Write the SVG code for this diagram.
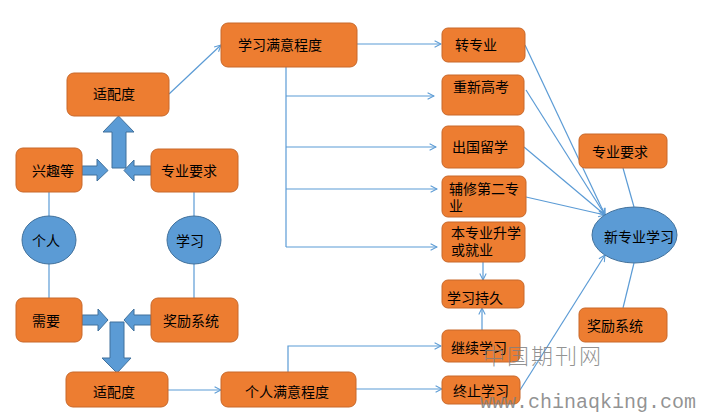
<svg xmlns="http://www.w3.org/2000/svg" width="708" height="413" viewBox="0 0 708 413">
<style>
.box{fill:#ED7D31;stroke:#C8682A;stroke-width:1}
.oval{fill:#5B9BD5;stroke:#41719C;stroke-width:1}
.blk{fill:#5B9BD5;stroke:#41719C;stroke-width:1}
.t{font-family:"Noto Sans CJK SC","Noto Sans CJK JP",sans-serif;font-size:14px;fill:#000}
.ln{fill:none;stroke:#5B9BD5;stroke-width:1.2}
.ar{marker-end:url(#ah)}
.wm{fill:#7f7f7f;fill-opacity:0.85}
</style>
<defs>
<marker id="ah" viewBox="0 0 10 10" refX="9" refY="5" markerWidth="8" markerHeight="8" markerUnits="userSpaceOnUse" orient="auto">
<path d="M1,1 L9,5 L1,9" fill="none" stroke="#5B9BD5" stroke-width="1.3"/>
</marker>
</defs>
<rect width="708" height="413" fill="#fff"/>
<g id="connectors">
<line class="ln" x1="49" y1="192" x2="49" y2="216"/>
<line class="ln" x1="49" y1="264" x2="49" y2="298"/>
<line class="ln" x1="194" y1="192" x2="194" y2="216"/>
<line class="ln" x1="194" y1="264" x2="194" y2="298"/>
<line class="ln ar" x1="169" y1="94" x2="221" y2="45"/>
<line class="ln ar" x1="357" y1="44" x2="441" y2="44"/>
<line class="ln" x1="286" y1="67" x2="286" y2="247"/>
<line class="ln ar" x1="286" y1="96" x2="434" y2="96"/>
<line class="ln ar" x1="286" y1="147" x2="436" y2="147"/>
<line class="ln ar" x1="286" y1="189" x2="437" y2="189"/>
<line class="ln ar" x1="286" y1="247" x2="437" y2="247"/>
<line class="ln ar" x1="483" y1="262" x2="483" y2="280"/>
<line class="ln ar" x1="482" y1="330" x2="482" y2="308"/>
<polyline class="ln ar" points="288,372 288,346 441,346"/>
<line class="ln ar" x1="168" y1="390" x2="221" y2="390"/>
<line class="ln ar" x1="356" y1="389" x2="442" y2="389"/>
<line class="ln ar" x1="520" y1="390" x2="605" y2="255"/>
<line class="ln ar" x1="525" y1="45" x2="605" y2="215"/>
<line class="ln ar" x1="526" y1="90" x2="605" y2="215"/>
<line class="ln ar" x1="524" y1="147" x2="605" y2="215"/>
<line class="ln ar" x1="526" y1="197" x2="605" y2="215"/>
<line class="ln" x1="623" y1="168" x2="634" y2="207"/>
<line class="ln" x1="623" y1="308" x2="634" y2="263"/>
<polygon class="blk" points="112,168 126,168 126,132 134,132 118.5,116 103,132 112,132"/>
<polygon class="blk" points="82,166 97,166 97,159 108,170.5 97,181 97,175 82,175"/>
<polygon class="blk" points="151,166 134,166 134,160 124,170.5 134,181 134,175 151,175"/>
<polygon class="blk" points="82,315 98,315 98,309 108,320 98,331 98,325 82,325"/>
<polygon class="blk" points="151,315 134,315 134,309 124,320 134,331 134,325 151,325"/>
<polygon class="blk" points="110,322 124,322 124,358 131,358 117,373 102,358 110,358"/>
</g>
<g id="n-xqmyd"><rect class="box" x="221" y="23" width="136" height="44" rx="7"/><text class="t" x="238" y="50">学习满意程度</text></g>
<g id="n-spd1"><rect class="box" x="67" y="73" width="102" height="43" rx="7"/><text class="t" x="93" y="99">适配度</text></g>
<g id="n-xqd"><rect class="box" x="16" y="148" width="66" height="44" rx="7"/><text class="t" x="32" y="176">兴趣等</text></g>
<g id="n-zyyq1"><rect class="box" x="151" y="149" width="87" height="43" rx="7"/><text class="t" x="161" y="176">专业要求</text></g>
<g id="n-gr"><ellipse class="oval" cx="49" cy="240" rx="27" ry="24"/><text class="t" x="32" y="246">个人</text></g>
<g id="n-xx"><ellipse class="oval" cx="194" cy="240" rx="27" ry="24"/><text class="t" x="176" y="246">学习</text></g>
<g id="n-xy"><rect class="box" x="16" y="298" width="66" height="44" rx="7"/><text class="t" x="32" y="326">需要</text></g>
<g id="n-jlxt1"><rect class="box" x="151" y="298" width="87" height="44" rx="7"/><text class="t" x="163" y="326">奖励系统</text></g>
<g id="n-spd2"><rect class="box" x="66" y="372" width="102" height="35" rx="7"/><text class="t" x="93" y="397">适配度</text></g>
<g id="n-grmyd"><rect class="box" x="221" y="372" width="135" height="35" rx="7"/><text class="t" x="245" y="397">个人满意程度</text></g>
<g id="n-zzy"><rect class="box" x="442" y="28" width="83" height="34" rx="6"/><text class="t" x="455" y="50">转专业</text></g>
<g id="n-cxgk"><rect class="box" x="442" y="75" width="82" height="40" rx="6"/><text class="t" x="453" y="92">重新高考</text></g>
<g id="n-cglx"><rect class="box" x="442" y="126" width="82" height="42" rx="6"/><text class="t" x="452" y="152">出国留学</text></g>
<g id="n-fx"><rect class="box" x="442" y="176" width="84" height="41" rx="6"/><text class="t" x="449" y="193.5">辅修第二专</text><text class="t" x="449" y="210.5">业</text></g>
<g id="n-bzy"><rect class="box" x="442" y="222" width="83" height="40" rx="6"/><text class="t" x="451" y="237.5">本专业升学</text><text class="t" x="451" y="254.5">或就业</text></g>
<g id="n-xxcj"><rect class="box" x="442" y="280" width="82" height="28" rx="6"/><text class="t" x="447" y="303">学习持久</text></g>
<g id="n-jxxx"><rect class="box" x="442" y="330" width="78" height="32" rx="6"/><text class="t" x="451" y="353">继续学习</text></g>
<g id="n-zzxx"><rect class="box" x="442" y="376" width="78" height="28" rx="6"/><text class="t" x="453" y="396">终止学习</text></g>
<g id="n-zyyq2"><rect class="box" x="579" y="134" width="88" height="34" rx="6"/><text class="t" x="592" y="157">专业要求</text></g>
<g id="n-xzyxx"><ellipse class="oval" cx="634.5" cy="235" rx="42.5" ry="28"/><text class="t" x="604" y="242">新专业学习</text></g>
<g id="n-jlxt2"><rect class="box" x="579" y="308" width="88" height="34" rx="6"/><text class="t" x="587" y="331">奖励系统</text></g>
<g id="watermark">
<text class="wm" x="483" y="364" style="font-family:'Noto Sans CJK SC',sans-serif;font-size:22px;font-weight:300;letter-spacing:2px">中国期刊网</text>
<text class="wm" x="480" y="408" style="font-family:'Liberation Mono',monospace;font-size:20px">www.chinaqking.com</text>
</g>
</svg>
